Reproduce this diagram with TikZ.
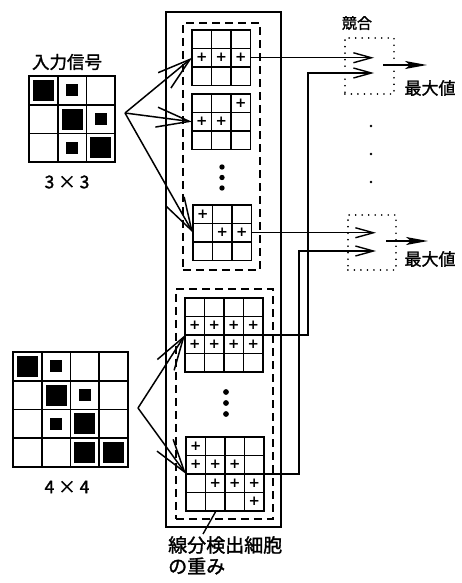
\documentclass[tikz,border=0pt]{standalone}
\usepackage{fontspec}
\setmainfont{Noto Sans CJK JP}[FakeBold=1.5]
\newfontfamily\jpfont{Noto Sans CJK JP}[FakeBold=1.5]
\newfontfamily\plusfont{DejaVu Sans}
\usetikzlibrary{arrows.meta}

\newcommand\wlinesA[1]{\foreach \k in {1,2}{\draw[wline] (#1.north west) ++(\k*19.5,0) -- ++(0,55.5); \draw[wline] (#1.north west) ++(0,\k*18.5) -- ++(58.5,0);}}
\newcommand\wlinesB[1]{\foreach \k in {1,2,3}{\draw[wline] (#1.north west) ++(\k*19.5,0) -- ++(0,74); \draw[wline] (#1.north west) ++(0,\k*18.5) -- ++(78,0);}}
\newcommand\pl[3]{\path (#1.north west) ++(#3*19.5-9.75,#2*18.5-9.25) node[plusnode] {+};}
\newcommand\ilines[2]{\foreach \k in {1,...,#2}{\draw[iline] (#1.north west) ++(\k*28.7,0) -- ++(0,28.7*#2+28.7); \draw[iline] (#1.north west) ++(0,\k*28.7) -- ++(28.7*#2+28.7,0);}}
\newcommand\bigsq[3]{\fill (#1.north west) ++(#3*28.7-14.35-10.5,#2*28.7-14.35-10.5) rectangle ++(21,21);}
\newcommand\smsq[3]{\fill (#1.north west) ++(#3*28.7-14.35-6,#2*28.7-14.35-6) rectangle ++(12,12);}

\begin{document}
\begin{tikzpicture}[x=1pt,y=-1pt,
  wgridA/.style={draw,line width=1.5pt,inner sep=0pt,outer sep=0pt,anchor=north west,minimum width=58.5pt,minimum height=55.5pt},
  wgridB/.style={draw,line width=1.5pt,inner sep=0pt,outer sep=0pt,anchor=north west,minimum width=78pt,minimum height=74pt},
  wline/.style={line width=1.5pt},
  igrid/.style={draw,line width=1.8pt,inner sep=0pt,outer sep=0pt,anchor=north west,minimum width=#1,minimum height=#1},
  iline/.style={line width=1.8pt},
  plusnode/.style={inner sep=0pt,font=\plusfont\bfseries\fontsize{13.5}{13.5}\selectfont},
  outerbox/.style={draw,line width=1.6pt,inner sep=0pt,anchor=north west},
  dashbox/.style={draw,line width=1.7pt,dash pattern=on 8pt off 5pt,inner sep=0pt,anchor=north west},
  compbox/.style={draw,line width=1.8pt,dash pattern=on 0.01pt off 6.5pt,line cap=round,inner sep=0pt,anchor=north west},
  bigarrow/.style={line width=1.5pt,-{Straight Barb[length=33pt,width=20pt,line width=1.5pt]}},
  conn/.style={line width=1.3pt,-{Straight Barb[length=18pt,width=10pt,line width=1.4pt]}},
  outarrow/.style={line width=1.6pt,-{Stealth[length=22pt,width=8pt,inset=5pt]}},
  lab/.style={inner sep=0pt,font=\jpfont\fontsize{#1}{#1}\selectfont},
]
\useasboundingbox (0,0) rectangle (462,583);

% outer and dashed boxes
\node[outerbox,minimum width=115pt,minimum height=515pt] (outer) at (165,11) {};
\node[dashbox,minimum width=77pt,minimum height=247pt] (du) at (182,22) {};
\node[dashbox,minimum width=97pt,minimum height=230pt] (dl) at (175,288) {};

% weight grids 3x3
\node[wgridA] (g1) at (192,30) {};
\node[wgridA] (g2) at (192,94) {};
\node[wgridA] (g3) at (193,205) {};
\wlinesA{g1}\wlinesA{g2}\wlinesA{g3}
\pl{g1}{2}{1}\pl{g1}{2}{2}\pl{g1}{2}{3}
\pl{g2}{1}{3}\pl{g2}{2}{1}\pl{g2}{2}{2}
\pl{g3}{1}{1}\pl{g3}{2}{2}\pl{g3}{2}{3}
\foreach \yy in {167,177.5,188} \fill (222,\yy) circle (2.7pt);

% weight grids 4x4
\node[wgridB] (h1) at (185,298) {};
\node[wgridB] (h2) at (186,437) {};
\wlinesB{h1}\wlinesB{h2}
\foreach \c in {1,2,3,4}{\pl{h1}{2}{\c}\pl{h1}{3}{\c}}
\pl{h2}{1}{1}\pl{h2}{2}{1}\pl{h2}{2}{2}\pl{h2}{2}{3}
\pl{h2}{3}{2}\pl{h2}{3}{3}\pl{h2}{3}{4}\pl{h2}{4}{4}
\foreach \yy in {392,403,414} \fill (226,\yy) circle (2.9pt);

% input 3x3
\node[igrid=86.1pt] (in3) at (29,76) {};
\ilines{in3}{2}
\bigsq{in3}{1}{1}\smsq{in3}{1}{2}\bigsq{in3}{2}{2}\smsq{in3}{2}{3}\smsq{in3}{3}{2}\bigsq{in3}{3}{3}
\node[lab=17.5] (l3) at (67,62) {入力信号};
\node[lab=17.5] (s3) at (67,182) {3 × 3};

% input 4x4
\node[igrid=114.8pt] (in4) at (13,352) {};
\ilines{in4}{3}
\bigsq{in4}{1}{1}\smsq{in4}{1}{2}\bigsq{in4}{2}{2}\smsq{in4}{2}{3}\smsq{in4}{3}{2}\bigsq{in4}{3}{3}\bigsq{in4}{4}{3}\bigsq{in4}{4}{4}
\node[lab=17.5] (s4) at (67,487) {4 × 4};

% fan arrows
\coordinate (a3) at (125,113);
\coordinate (a4) at (138,408);
\draw[bigarrow] (a3) -- (g1.west);
\draw[bigarrow] (a3) -- (g2.west);
\draw[bigarrow] (a3) -- (g3.west);
\draw[bigarrow] (a4) -- (h1.west);
\draw[bigarrow] (a4) -- (h2.west);

% competition boxes
\node[compbox,minimum width=49pt,minimum height=56pt] (c1) at (344,37) {};
\node[compbox,minimum width=48pt,minimum height=55pt] (c2) at (347,214) {};
\node[lab=15] (kl) at (357,23) {競合};
\node[lab=17] (m1) at (430,88) {最大値};
\node[lab=17] (m2) at (430,259) {最大値};
\foreach \yy in {126,154,182} \fill (371,\yy) circle (1.4pt);

% connections to competition
\coordinate (tx1) at (374,0);
\coordinate (tx2) at (376,0);
\coordinate (k1) at (308,73);
\coordinate (t2) at (374,73);
\coordinate (k2) at (299,251);
\coordinate (t4) at (376,251);
\draw[conn] (g1.east) -- (g1.east -| tx1);
\draw[conn] (h1.east) -| (k1) -- (t2);
\draw[conn] (g3.east) -- (g3.east -| tx2);
\draw[conn] (h2.east) -| (k2) -- (t4);

% outputs
\coordinate (o1) at (383,65);
\coordinate (o1e) at (427,65);
\coordinate (o2) at (386,241);
\coordinate (o2e) at (428,241);
\draw[outarrow] (o1) -- (o1e);
\draw[outarrow] (o2) -- (o2e);

% bottom label
\node[lab=19,anchor=west] (bl1) at (168,545) {線分検出細胞};
\node[lab=19,anchor=west] (bl2) at (168,566) {の重み};
\coordinate (pt) at (216,511);
\draw[line width=1.4pt] (pt) -- (203,534);
\end{tikzpicture}
\end{document}
